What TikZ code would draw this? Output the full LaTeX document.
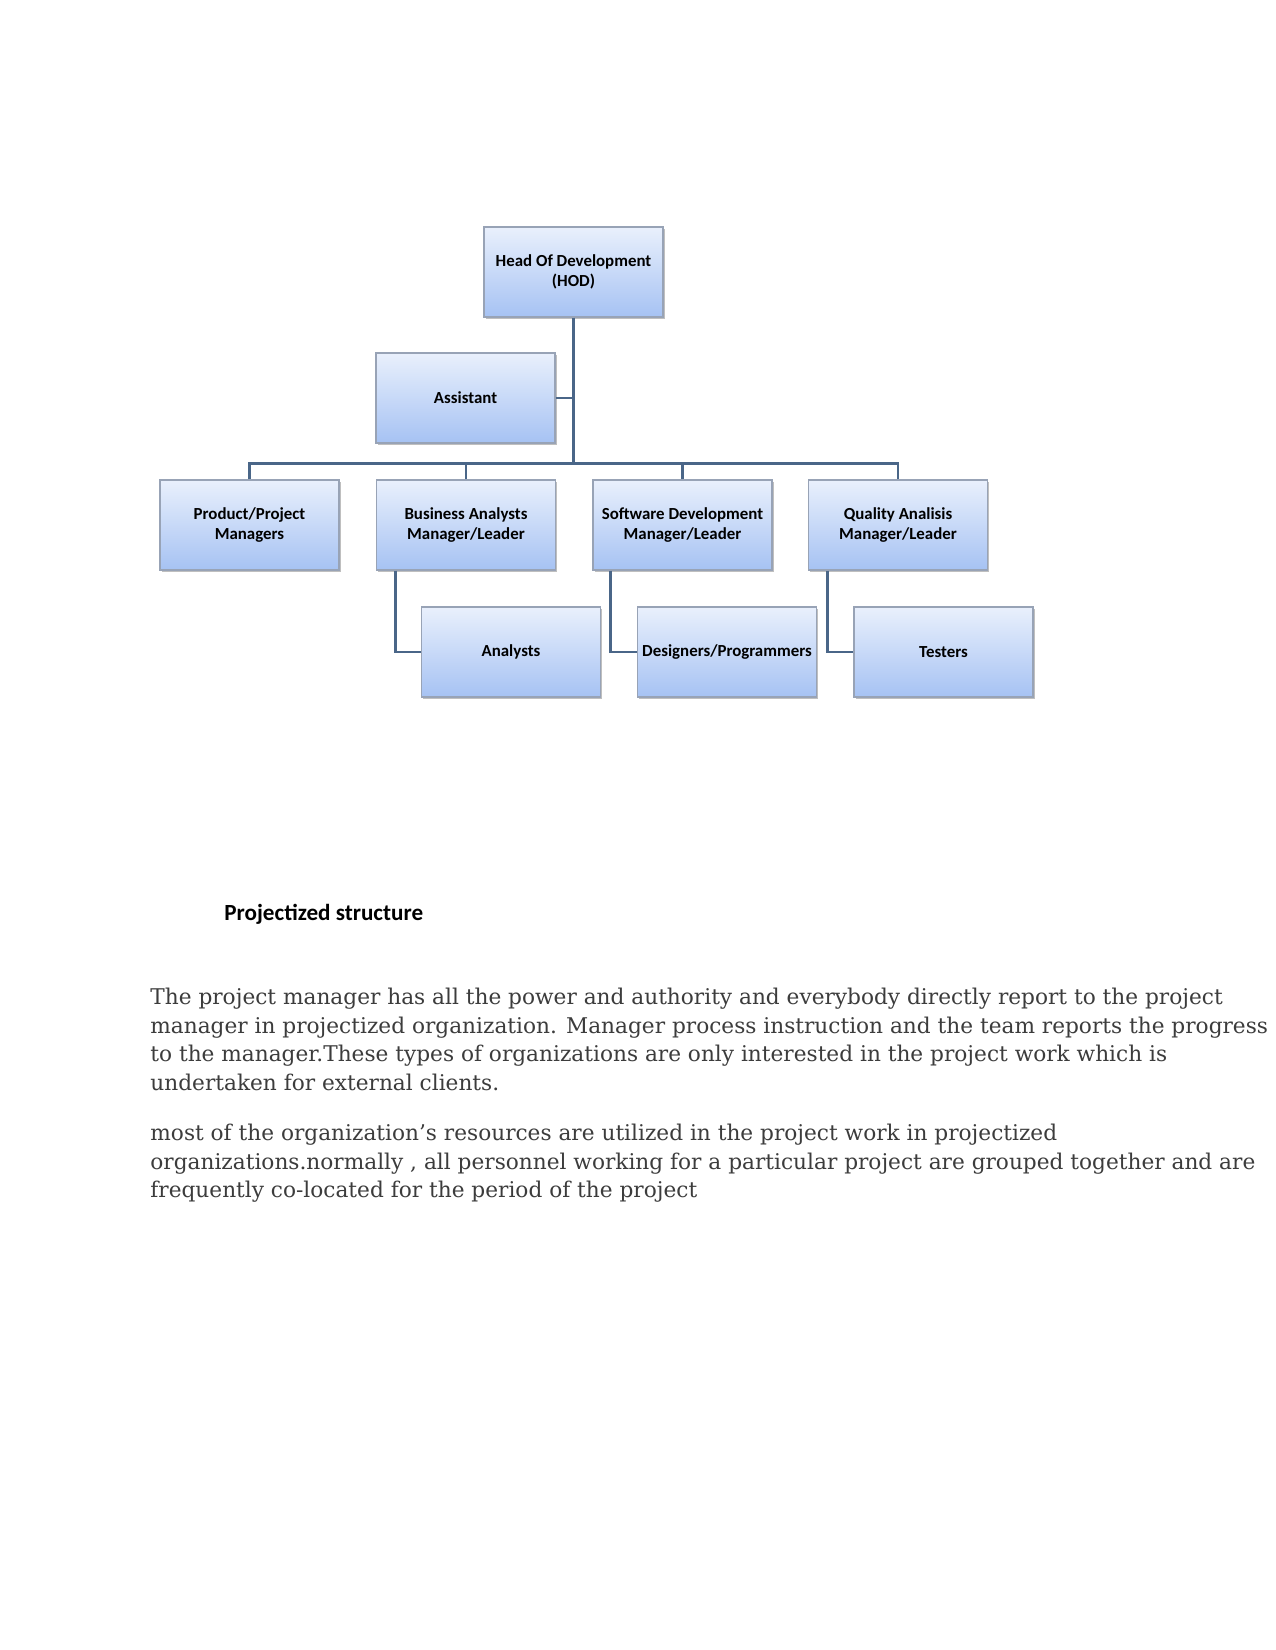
\documentclass[tikz,border=0pt]{standalone}
\usepackage{fontspec}
\setmainfont{DejaVu Serif}
\newfontfamily\boxfont{Carlito}
\usetikzlibrary{calc,shadows}
\definecolor{boxtop}{HTML}{E9F0FC}
\definecolor{boxbot}{HTML}{A6C2F3}
\definecolor{boxline}{HTML}{98A3B6}
\definecolor{conn}{HTML}{4A6688}
\definecolor{bodygray}{HTML}{3C3C3C}
\tikzset{
  orgbox/.style={draw=boxline, line width=0.6pt, top color=boxtop, bottom color=boxbot,
    minimum width=85.9pt, minimum height=43.2pt, inner sep=1pt, align=center,
    font=\boxfont\bfseries\fontsize{8.1}{9.6}\selectfont,
    drop shadow={shadow xshift=0.8pt, shadow yshift=-0.8pt, fill=black, opacity=0.25}},
  link/.style={draw=conn, line width=1.4pt},
  bodyline/.style={anchor=base west, inner sep=0pt, text=bodygray,
    font=\fontsize{10.4}{13.7}\selectfont},
}
\begin{document}
\begin{tikzpicture}[x=0.48pt,y=-0.48pt]
\useasboundingbox (0,0) rectangle (1275,1650);
\fill[white] (0,0) rectangle (1275,1650);
% boxes
\node[orgbox] (hod) at (573.5,272) {Head Of Development\\(HOD)};
\node[orgbox] (asst) at (465.5,398) {Assistant};
\node[orgbox] (ppm) at (249.5,525) {Product/Project\\Managers};
\node[orgbox] (ba) at (466,525) {Business Analysts\\Manager/Leader};
\node[orgbox] (sd) at (682.5,525) {Software Development\\Manager/Leader};
\node[orgbox] (qa) at (898,525) {Quality Analisis\\Manager/Leader};
\node[orgbox] (an) at (511,652) {Analysts};
\node[orgbox] (dp) at (727,652) {Designers/Programmers};
\node[orgbox] (ts) at (943.5,652) {Testers};
% connectors
\coordinate (bus) at ($(hod.south)+(0,146)$);
\draw[link] (hod.south) -- (bus);
\draw[link] (asst.east) -- (hod.south |- asst.east);
\draw[link] (ppm.north) |- (bus);
\draw[link] (ba.north) |- (bus);
\draw[link] (sd.north) |- (bus);
\draw[link] (qa.north) |- (bus);
\draw[link] ($(ba.south west)+(20,0)$) |- (an.west);
\draw[link] ($(sd.south west)+(18,0)$) |- (dp.west);
\draw[link] ($(qa.south west)+(20,0)$) |- (ts.west);
% texts
\node[anchor=base west, inner sep=0pt, font=\boxfont\bfseries\fontsize{11.1}{13}\selectfont] (head) at (224,920) {Projectized structure};
\node[bodyline] (p1) at (150,1004) {The project manager has all the power and authority and everybody directly report to the project};
\node[bodyline] (p2) at (150,1033) {manager in projectized organization. Manager process instruction and the team reports the progress};
\node[bodyline] (p3) at (150,1061) {to the manager.These types of organizations are only interested in the project work which is};
\node[bodyline] (p4) at (150,1090) {undertaken for external clients.};
\node[bodyline] (q1) at (150,1140) {most of the organization’s resources are utilized in the project work in projectized};
\node[bodyline] (q2) at (150,1169) {organizations.normally , all personnel working for a particular project are grouped together and are};
\node[bodyline] (q3) at (150,1197) {frequently co-located for the period of the project};
\end{tikzpicture}
\end{document}
